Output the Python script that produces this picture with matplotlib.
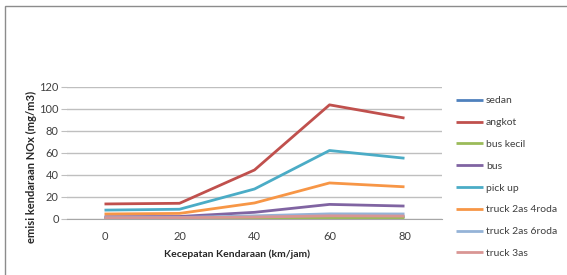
import matplotlib
matplotlib.use("Agg")
import matplotlib.pyplot as plt
from matplotlib.patches import Rectangle

plt.rcParams['font.family'] = ['Lato', 'DejaVu Sans']

speeds = ["0", "20", "40", "60", "80"]
sedan = [0.6, 0.7, 1.2, 2.0, 1.9]
angkot = [13.4, 14.0, 44.3, 103.5, 91.5]
bus_kecil = [0.3, 0.3, 0.6, 1.0, 0.9]
bus = [1.8, 2.0, 5.8, 13.0, 11.5]
pick_up = [7.8, 8.6, 27.0, 62.0, 55.0]
truck_2as_4roda = [4.3, 4.8, 14.3, 32.5, 29.0]
truck_2as_6roda = [1.0, 1.1, 2.6, 4.4, 4.3]
truck_3as = [0.8, 0.9, 1.5, 2.6, 2.4]

series = [
    ("sedan", sedan, "#4F81BD"),
    ("angkot", angkot, "#C0504D"),
    ("bus kecil", bus_kecil, "#9BBB59"),
    ("bus", bus, "#8064A2"),
    ("pick up", pick_up, "#4BACC6"),
    ("truck 2as 4roda", truck_2as_4roda, "#F79646"),
    ("truck 2as 6roda", truck_2as_6roda, "#95B3D7"),
    ("truck 3as", truck_3as, "#D99694"),
]

W, H = 567, 275
fig = plt.figure(figsize=(W / 100, H / 100), dpi=100)
fig.patch.set_facecolor("white")

# outer chart frame (left and top edges visible)
fig.patches.append(Rectangle((5 / W, -0.05), 1.2, (H - 6) / H + 0.05,
                             transform=fig.transFigure, fill=False,
                             edgecolor="#8c8c8c", linewidth=1.0))

ax_l, ax_r, ax_t, ax_b = 67, 442, 86.7, 218.7
ax = fig.add_axes([ax_l / W, 1 - ax_b / H, (ax_r - ax_l) / W, (ax_b - ax_t) / H])

x = list(range(len(speeds)))
for name, vals, col in series:
    ax.plot(x, vals, color=col, lw=2.0, label=name, solid_capstyle="butt")

ax.set_xlim(-0.5, len(speeds) - 0.5)
ax.set_ylim(0, 120)
ax.set_yticks(range(0, 121, 20))
ax.set_xticks(x)
ax.set_xticklabels(speeds)
ax.yaxis.grid(True, color="#bfbfbf", lw=1.0)
ax.set_axisbelow(True)
for s in ["top", "right", "left"]:
    ax.spines[s].set_visible(False)
ax.spines["bottom"].set_color("#a6a6a6")
ax.tick_params(axis="x", length=0, pad=9, labelsize=8, colors="#404040")
ax.tick_params(axis="y", length=4, width=0.8, color="#bfbfbf", pad=2,
               labelsize=8, colors="#404040")

ax.set_xlabel("Kecepatan Kendaraan (km/jam)", fontsize=7.5, fontweight="bold",
              color="#262626")
ax.xaxis.set_label_coords((237 - ax_l) / (ax_r - ax_l), -(254 - ax_b) / (ax_b - ax_t))
ax.xaxis.label.set_va("center")
ax.set_ylabel("emisi kendaraan NOx (mg/m3)", fontsize=8, fontweight="bold",
              color="#262626")
ax.yaxis.set_label_coords((31 - ax_l) / (ax_r - ax_l), (ax_b - 167) / (ax_b - ax_t))
ax.yaxis.label.set_va("center")

leg = fig.legend(loc="upper left", bbox_to_anchor=(452 / W, 1 - 92 / H),
                 frameon=False, fontsize=7.5, handlelength=2.6,
                 handletextpad=0.25, labelspacing=1.2, borderaxespad=0)
for t in leg.get_texts():
    t.set_color("#404040")

fig.savefig("out.png", dpi=100)
